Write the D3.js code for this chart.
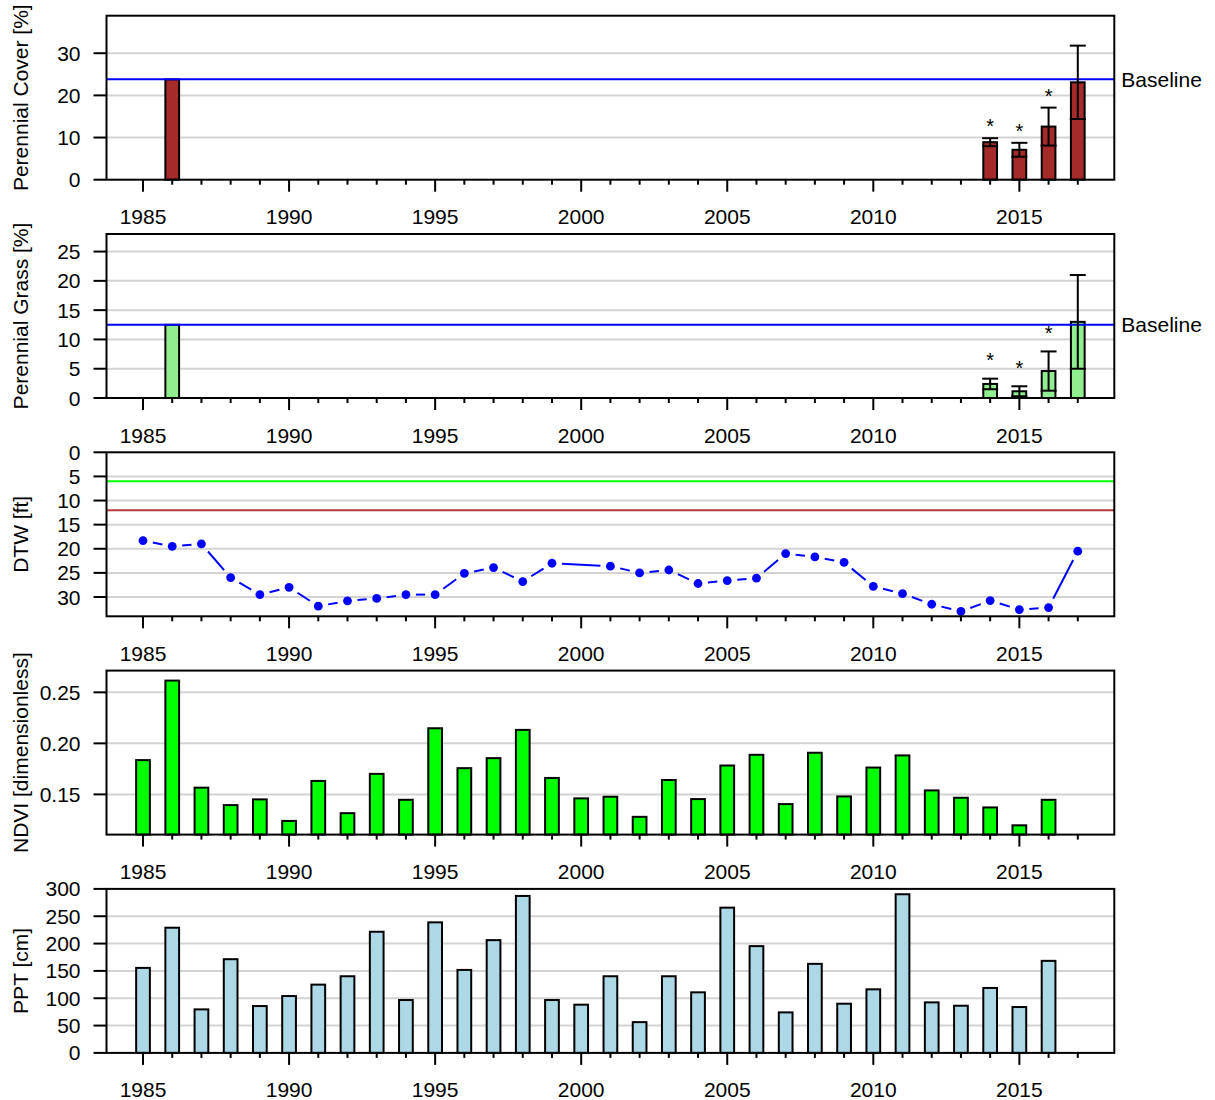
<!DOCTYPE html>
<html>
<head>
<meta charset="utf-8">
<script src="https://cdn.jsdelivr.net/npm/d3@7"></script>
<style>
  html, body { margin: 0; padding: 0; background: #fff; }
  svg { display: block; }
</style>
</head>
<body>
<svg id="chart" width="1215" height="1100"></svg>
<script>
// ---------------- DATA ----------------
const tickYears = d3.range(1985, 2018);
const labelYears = [1985, 1990, 1995, 2000, 2005, 2010, 2015];

// Perennial Cover [%]
const coverYears = [1986, 2014, 2015, 2016, 2017];
const coverMean  = [23.8, 8.9, 7.1, 12.6, 23.1];
const coverErr   = [null, 0.95, 1.65, 4.5, 8.7];
const coverSig   = [false, true, true, true, false];
const coverBaseline = 23.8;
const coverTicks = [0, 10, 20, 30];

// Perennial Grass [%]
const grassYears = [1986, 2014, 2015, 2016, 2017];
const grassMean  = [12.5, 2.4, 1.15, 4.6, 13.0];
const grassErr   = [null, 0.9, 0.85, 3.35, 8.0];
const grassSig   = [false, true, true, true, false];
const grassBaseline = 12.5;
const grassTicks = [0, 5, 10, 15, 20, 25];

// DTW [ft]
const dtwYears = [1985,1986,1987,1988,1989,1990,1991,1992,1993,1994,1995,1996,1997,1998,1999,
                  2001,2002,2003,2004,2005,2006,2007,2008,2009,2010,2011,2012,2013,2014,2015,2016,2017];
const dtwValues = [18.3,19.5,19.0,26.0,29.5,28.0,31.9,30.8,30.3,29.5,29.5,25.1,23.9,26.8,23.0,
                   23.6,25.0,24.4,27.2,26.6,26.1,21.0,21.7,22.8,27.8,29.3,31.5,33.0,30.75,32.6,32.2,20.5];
const dtwGreenLine = 6;
const dtwRedLine = 12;
const dtwTicks = [0, 5, 10, 15, 20, 25, 30];

// NDVI
const ndviYears = d3.range(1985, 2017);
const ndviValues = [0.1836,0.2615,0.1566,0.1395,0.1451,0.1240,0.1632,0.1316,0.1701,0.1447,
                    0.2148,0.1757,0.1855,0.2132,0.1661,0.1461,0.1477,0.1280,0.1641,0.1454,
                    0.1783,0.1888,0.1405,0.1908,0.1480,0.1763,0.1882,0.1539,0.1467,0.1372,
                    0.1197,0.1447];
const ndviTicks = [0.15, 0.20, 0.25];

// PPT [cm]
const pptYears = d3.range(1985, 2017);
const pptValues = [155.5,229,79.6,171.4,85.7,104,124.9,140.2,221.6,96.7,
                   238.8,151.8,206.3,287.1,96.7,88.2,140.2,56.3,140.2,110.8,
                   265.7,195.3,74.1,162.9,90,116.3,290.2,92.4,86.3,118.8,
                   83.9,168.4];
const pptTicks = [0, 50, 100, 150, 200, 250, 300];

// ---------------- LAYOUT ----------------
const FONT = "Arial, 'Liberation Sans', Helvetica, sans-serif";
const FS = 21;
const L = 106.5, R = 1114.3;
const PH = 164, PITCH = 218.3, TOP0 = 15.7;
const svg = d3.select("#chart");
const x = d3.scaleLinear().domain([1983.75, 2018.25]).range([L, R]);
const BW = 0.47; // bar width in years
const GRID = "#D3D3D3";

function panel(i, domain, reversed) {
  const top = TOP0 + i * PITCH, bottom = top + PH;
  const y = d3.scaleLinear().domain(domain).range(reversed ? [top, bottom] : [bottom, top]);
  const g = svg.append("g");
  return {g, y, top, bottom};
}

function grid(p, vals) {
  p.g.append("g").selectAll("line").data(vals).join("line")
    .attr("x1", L).attr("x2", R)
    .attr("y1", d => p.y(d)).attr("y2", d => p.y(d))
    .attr("stroke", GRID).attr("stroke-width", 2);
}

function hline(p, v, color) {
  p.g.append("line").attr("x1", L).attr("x2", R)
    .attr("y1", p.y(v)).attr("y2", p.y(v))
    .attr("stroke", color).attr("stroke-width", 2);
}

function axes(p, ticks, fmt, title) {
  const g = p.g;
  g.append("rect").attr("x", L).attr("y", p.top).attr("width", R - L).attr("height", PH)
    .attr("fill", "none").attr("stroke", "#000").attr("stroke-width", 2);
  g.append("g").selectAll("line").data(ticks).join("line")
    .attr("x1", L - 13).attr("x2", L)
    .attr("y1", d => p.y(d)).attr("y2", d => p.y(d))
    .attr("stroke", "#000").attr("stroke-width", 2);
  g.append("g").selectAll("text").data(ticks).join("text")
    .attr("x", L - 26).attr("y", d => p.y(d) + 0.358 * FS)
    .attr("text-anchor", "end").attr("font-family", FONT).attr("font-size", FS)
    .text(d => fmt(d));
  g.append("g").selectAll("line").data(tickYears).join("line")
    .attr("x1", d => x(d)).attr("x2", d => x(d))
    .attr("y1", p.bottom).attr("y2", d => p.bottom + (labelYears.includes(d) ? 12 : 5))
    .attr("stroke", "#000").attr("stroke-width", 2);
  g.append("g").selectAll("text").data(labelYears).join("text")
    .attr("x", d => x(d)).attr("y", p.bottom + 44.5)
    .attr("text-anchor", "middle").attr("font-family", FONT).attr("font-size", FS)
    .text(d => d);
  g.append("text")
    .attr("transform", `translate(28,${(p.top + p.bottom) / 2}) rotate(-90)`)
    .attr("text-anchor", "middle").attr("font-family", FONT).attr("font-size", FS)
    .text(title);
}

function bars(p, years, vals, fill, base) {
  p.g.append("g").selectAll("rect").data(years.map((yr, k) => ({yr, v: vals[k]}))).join("rect")
    .attr("x", d => x(d.yr - BW / 2)).attr("width", x(BW) - x(0))
    .attr("y", d => p.y(d.v)).attr("height", d => p.y(base) - p.y(d.v))
    .attr("fill", fill).attr("stroke", "#000").attr("stroke-width", 2);
}

function errorBars(p, years, mean, err, sig) {
  const data = years.map((yr, k) => ({yr, m: mean[k], e: err[k], s: sig[k]})).filter(d => d.e != null);
  const g = p.g.append("g").attr("stroke", "#000").attr("stroke-width", 2);
  data.forEach(d => {
    const cx = x(d.yr), y1 = p.y(d.m + d.e), y0 = p.y(d.m - d.e);
    g.append("line").attr("x1", cx).attr("x2", cx).attr("y1", y0).attr("y2", y1);
    g.append("line").attr("x1", cx - 8).attr("x2", cx + 8).attr("y1", y1).attr("y2", y1);
    g.append("line").attr("x1", cx - 8).attr("x2", cx + 8).attr("y1", y0).attr("y2", y0);
  });
  p.g.append("g").selectAll("text").data(data.filter(d => d.s)).join("text")
    .attr("x", d => x(d.yr)).attr("y", d => p.y(d.m + d.e + 3.8) + 11)
    .attr("text-anchor", "middle").attr("font-family", FONT).attr("font-size", 20)
    .text("*");
}

function baselineLabel(p, v) {
  p.g.append("text").attr("x", R + 7).attr("y", p.y(v) + 0.358 * FS)
    .attr("font-family", FONT).attr("font-size", FS).text("Baseline");
}

// ---------- Panel 1: Perennial Cover ----------
{
  const p = panel(0, [0, 38.9], false);
  grid(p, coverTicks.filter(d => d > 0));
  bars(p, coverYears, coverMean, "#A52A2A", 0);
  hline(p, coverBaseline, "#0000FF");
  errorBars(p, coverYears, coverMean, coverErr, coverSig);
  axes(p, coverTicks, d => d, "Perennial Cover [%]");
  baselineLabel(p, coverBaseline);
}

// ---------- Panel 2: Perennial Grass ----------
{
  const p = panel(1, [0, 28], false);
  grid(p, grassTicks.filter(d => d > 0));
  bars(p, grassYears, grassMean, "#90EE90", 0);
  hline(p, grassBaseline, "#0000FF");
  errorBars(p, grassYears, grassMean, grassErr, grassSig);
  axes(p, grassTicks, d => d, "Perennial Grass [%]");
  baselineLabel(p, grassBaseline);
}

// ---------- Panel 3: DTW ----------
{
  const p = panel(2, [0, 34], true);
  grid(p, dtwTicks.filter(d => d > 0));
  hline(p, dtwGreenLine, "#00FF00");
  hline(p, dtwRedLine, "#B53A3A");
  const pts = dtwYears.map((yr, k) => ({px: x(yr), py: p.y(dtwValues[k])}));
  const GAP = 10;
  const segs = [];
  for (let k = 0; k < pts.length - 1; k++) {
    const a = pts[k], b = pts[k + 1];
    const dx = b.px - a.px, dy = b.py - a.py, len = Math.hypot(dx, dy);
    if (len > 2 * GAP) {
      const ux = dx / len, uy = dy / len;
      segs.push({x1: a.px + ux * GAP, y1: a.py + uy * GAP, x2: b.px - ux * GAP, y2: b.py - uy * GAP});
    }
  }
  p.g.append("g").selectAll("line").data(segs).join("line")
    .attr("x1", d => d.x1).attr("y1", d => d.y1).attr("x2", d => d.x2).attr("y2", d => d.y2)
    .attr("stroke", "#0000FF").attr("stroke-width", 2);
  p.g.append("g").selectAll("circle").data(pts).join("circle")
    .attr("cx", d => d.px).attr("cy", d => d.py).attr("r", 4.4).attr("fill", "#0000FF");
  axes(p, dtwTicks, d => d, "DTW [ft]");
}

// ---------- Panel 4: NDVI ----------
{
  const p = panel(3, [0.1106, 0.2713], false);
  grid(p, ndviTicks);
  bars(p, ndviYears, ndviValues, "#00FF00", 0.1106);
  axes(p, ndviTicks, d3.format(".2f"), "NDVI [dimensionless]");
}

// ---------- Panel 5: PPT ----------
{
  const p = panel(4, [0, 300], false);
  grid(p, pptTicks.filter(d => d > 0 && d < 300));
  bars(p, pptYears, pptValues, "#ADD8E6", 0);
  axes(p, pptTicks, d => d, "PPT [cm]");
}
</script>
</body>
</html>
